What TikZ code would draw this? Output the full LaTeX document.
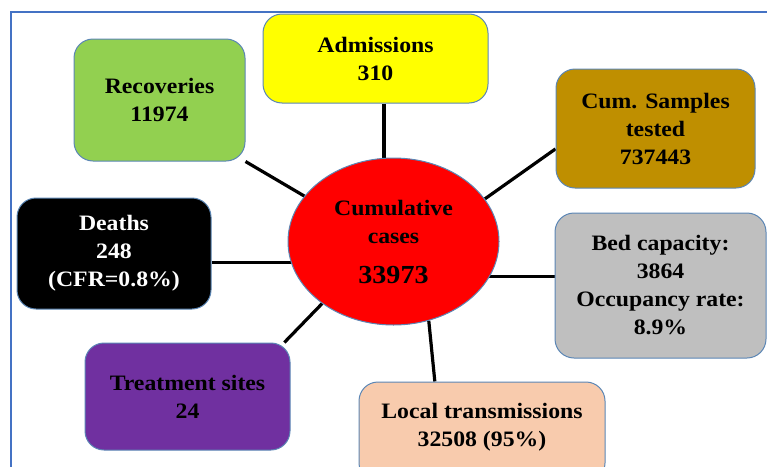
\documentclass[tikz,border=0pt]{standalone}
\usepackage{fontspec}
\setmainfont{Liberation Serif}[FakeStretch=1.08]
\usetikzlibrary{calc,shapes.geometric}
\definecolor{recg}{HTML}{92D050}
\definecolor{admy}{HTML}{FFFF00}
\definecolor{cumbrown}{HTML}{BF8F00}
\definecolor{bedgray}{HTML}{BFBFBF}
\definecolor{trtpurple}{HTML}{7030A0}
\definecolor{locpeach}{HTML}{F8CBAD}
\definecolor{edgeblue}{HTML}{5B86B5}
\definecolor{frameblue}{HTML}{4472C4}
\pgfdeclarelayer{bg}
\pgfsetlayers{bg,main}
\begin{document}
\begin{tikzpicture}[x=1pt,y=-1pt,
  box/.style={rectangle, rounded corners=19pt, draw=edgeblue, line width=1pt,
    align=center, inner sep=0pt, font=\bfseries\fontsize{22}{28}\selectfont},
  conn/.style={line width=3.2pt, black},
  frame/.style={draw=frameblue, line width=2pt}]
\useasboundingbox (0,0) rectangle (767,466);
\draw[frame] (11,480) -- (11,12) -- (780,12);

\node[ellipse, fill=red, draw=edgeblue, line width=1pt, minimum width=211pt,
  minimum height=167pt, inner sep=0pt, align=center,
  font=\bfseries\fontsize{22}{28}\selectfont] (ell) at (393.5,241.5)
  {Cumulative\\cases\\[12pt]{\fontsize{26}{30}\selectfont 33973}};

\node[box, fill=recg, minimum width=171pt, minimum height=122pt] (rec) at (159.5,100) {Recoveries\\11974};
\node[box, fill=admy, minimum width=225pt, minimum height=89pt] (adm) at (375.5,58.5) {Admissions\\310};
\node[box, fill=cumbrown, minimum width=199pt, minimum height=119pt] (cum) at (655.5,128.5) {Cum. Samples\\tested\\737443};
\node[box, fill=black, text=white, minimum width=194pt, minimum height=111pt] (dea) at (114,253.5) {Deaths\\248\\(CFR=0.8\%)};
\node[box, fill=bedgray, minimum width=211pt, minimum height=145pt] (bed) at (660.5,285.5) {Bed capacity:\\3864\\Occupancy rate:\\8.9\%};
\node[box, fill=trtpurple, minimum width=205pt, minimum height=107pt] (trt) at (187.5,396.5) {Treatment sites\\24};
\node[box, fill=locpeach, minimum width=246pt, minimum height=100pt, text depth=15pt] (loc) at (482,432) {Local transmissions\\32508 (95\%)};

\begin{pgfonlayer}{bg}
\draw[conn] ($(adm.south west)!0.538!(adm.south east)$) coordinate (a1) -- (a1 |- ell.center);
\draw[conn] (rec.south east) -- (ell.153);
\draw[conn] ($(cum.north west)!0.67!(cum.south west)$) -- (ell.25);
\draw[conn] ($(dea.north east)!0.577!(dea.south east)$) coordinate (d1) -- (d1 -| ell.center);
\draw[conn] ($(bed.north west)!0.441!(bed.south west)$) coordinate (b1) -- (b1 -| ell.center);
\draw[conn] ($(trt.north west)!0.97!(trt.north east)$) -- (ell.221);
\draw[conn] ($(loc.north west)!0.309!(loc.north east)$) -- (ell.294);
\end{pgfonlayer}
\end{tikzpicture}
\end{document}
